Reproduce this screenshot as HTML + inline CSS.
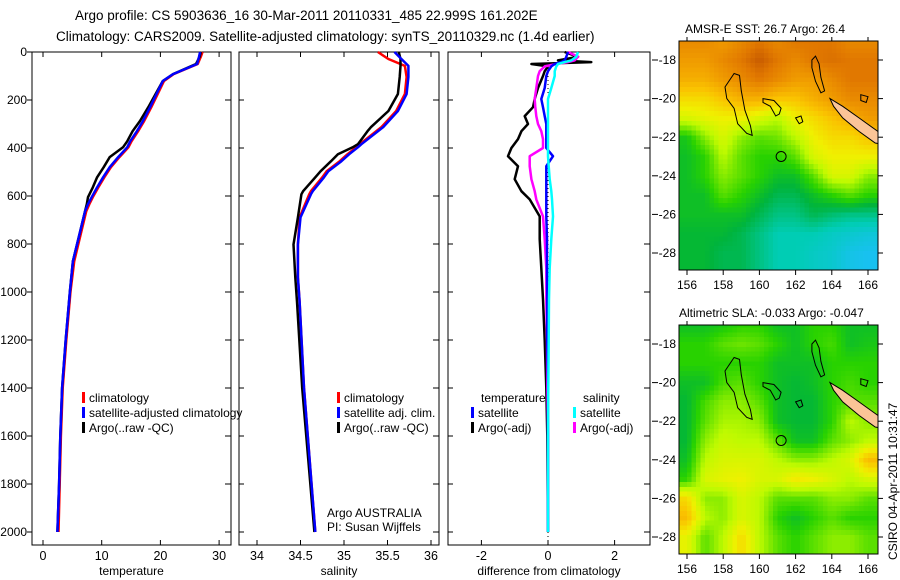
<!DOCTYPE html>
<html><head><meta charset="utf-8"><style>
html,body{margin:0;padding:0;background:#fff;}
svg{display:block;font-family:"Liberation Sans",sans-serif;}
</style></head><body>
<svg id="fig" width="900" height="580" viewBox="0 0 900 580">
<text x="75" y="20" font-size="13.5">Argo profile: CS 5903636_16 30-Mar-2011 20110331_485 22.999S 161.202E</text>
<text x="56" y="41" font-size="13.5">Climatology: CARS2009. Satellite-adjusted climatology: synTS_20110329.nc (1.4d earlier)</text>
<text x="685" y="33" font-size="12">AMSR-E SST: 26.7 Argo: 26.4</text>
<text x="679" y="317" font-size="12">Altimetric SLA: -0.033 Argo: -0.047</text>
<text transform="translate(897,560) rotate(-90)" font-size="12">CSIRO 04-Apr-2011 10:31:47</text>
<g id="g"></g>
</svg>
<script>
// ---- profile data (depth in m) ----
const tDepth = [0,20,50,92,121,230,288,330,372,397,438,480,522,564,605,634,664,747,872,998,1200,1400,1600,1800,2000];
const tClim  = [27.18,26.88,26.36,22.25,20.61,18.45,17.22,16.2,15.07,14.55,13.01,11.57,10.44,9.42,8.49,7.88,7.36,6.54,5.31,4.69,3.97,3.36,3.05,2.84,2.64];
const tSat   = [26.77,26.57,26.26,22.15,20.41,18.25,17.02,15.99,14.86,14.35,12.81,11.37,10.24,9.21,8.29,7.67,7.16,6.34,5.10,4.59,3.87,3.25,2.95,2.74,2.45];
const tArgo  = [26.88,26.67,26.06,22.15,20.41,17.94,16.5,15.27,14.35,13.63,11.37,10.34,9.21,8.49,7.67,7.47,7.16,6.34,5.1,4.59,3.87,3.25,2.95,2.74,2.45];
const sDepth = [0,29,58,104,175,246,313,330,384,397,426,455,497,522,580,593,689,802,939,1040,1400,2000];
const sClim  = [35.39,35.51,35.7,35.72,35.7,35.6,35.43,35.37,35.18,35.14,35.04,34.95,34.8,34.75,34.62,34.6,34.49,34.47,34.47,34.49,34.54,34.67];
const sSat   = [35.58,35.66,35.74,35.74,35.72,35.62,35.45,35.39,35.2,35.16,35.06,34.97,34.82,34.77,34.64,34.62,34.5,34.47,34.47,34.49,34.54,34.67];
const sArgo  = [35.63,35.65,35.65,35.64,35.62,35.51,35.31,35.27,35.16,35.1,34.93,34.85,34.73,34.67,34.53,34.51,34.47,34.42,34.44,34.46,34.52,34.66];
const dDepth = [0,20,35,42,50,60,80,100,150,196,230,267,300,330,363,400,434,476,530,580,614,685,780,900,1030,1200,1400,1600,2000];
const dTempArgo = [0.5,0.9,0.3,1.3,-0.5,0.0,-0.1,-0.15,-0.3,-0.4,-0.45,-0.7,-0.6,-0.8,-0.9,-1.1,-1.2,-0.9,-1.0,-0.8,-0.55,-0.25,-0.25,-0.2,-0.15,-0.1,-0.05,-0.02,0];
const dSalArgo  = [0.6,0.9,0.8,0.6,0.25,-0.1,-0.25,-0.3,-0.35,-0.4,-0.38,-0.35,-0.3,-0.2,-0.15,-0.15,-0.55,-0.55,-0.5,-0.4,-0.35,-0.15,-0.1,-0.05,-0.05,-0.03,-0.02,0,0];
const dTempSat  = [0.6,0.55,0.5,0.4,0.2,0.1,0.0,-0.05,-0.1,-0.2,-0.15,-0.1,-0.05,-0.05,-0.05,-0.05,0.15,-0.05,-0.05,-0.05,-0.05,-0.05,-0.03,-0.03,-0.02,-0.02,0,0,0];
const dSalSat   = [0.9,0.85,0.7,0.5,0.3,0.25,0.2,0.2,0.1,0.0,0,0,0,0,0,0,0,0.02,0.05,0.1,0.12,0.15,0.1,0.05,0.03,0.02,0.01,0,0];
const depthTicks = [0,200,400,600,800,1000,1200,1400,1600,1800,2000];
const tTicks = [0,10,20,30];
const sTicks = [34,34.5,35,35.5,36];
const dTicks = [-2,0,2];
const lonTicks = [156,158,160,162,164,166];
const latTicks = [-18,-20,-22,-24,-26,-28];
// ---- map grids (normalized 0..1 colour index), 12 rows (lat -17..-28) x 11 cols (lon 156..166) ----
const sstGrid = [
[.85,.85,.8,.85,.9,.85,.9,.9,.9,.85,.85],
[.8,.8,.85,.9,.97,.9,.85,.9,.92,.9,.9],
[.75,.75,.8,.85,.9,.85,.8,.8,.85,.9,.9],
[.65,.65,.7,.75,.75,.7,.7,.75,.8,.85,.85],
[.55,.58,.6,.6,.55,.5,.6,.65,.7,.75,.8],
[.32,.45,.55,.45,.4,.42,.5,.6,.65,.65,.7],
[.3,.35,.5,.4,.35,.35,.4,.55,.6,.6,.6],
[.3,.35,.45,.4,.35,.3,.3,.4,.55,.55,.45],
[.3,.3,.4,.35,.3,.25,.25,.3,.35,.4,.35],
[.3,.3,.3,.3,.25,.2,.2,.25,.22,.2,.2],
[.28,.28,.28,.25,.2,.15,.15,.15,.12,.1,.08],
[.28,.28,.25,.25,.2,.15,.15,.12,.1,.05,.03]];
const slaGrid = [
[.3,.3,.32,.35,.35,.3,.3,.35,.35,.3,.3],
[.35,.35,.4,.42,.4,.35,.3,.35,.38,.3,.32],
[.35,.35,.35,.35,.35,.3,.3,.3,.35,.35,.35],
[.3,.3,.38,.4,.35,.3,.28,.3,.35,.38,.35],
[.28,.38,.45,.45,.4,.3,.28,.28,.35,.4,.4],
[.28,.4,.48,.48,.45,.3,.28,.28,.35,.5,.45],
[.28,.45,.52,.5,.5,.4,.3,.3,.4,.45,.5],
[.3,.5,.55,.55,.55,.5,.45,.45,.5,.55,.72],
[.35,.55,.58,.6,.55,.55,.62,.6,.55,.5,.55],
[.65,.45,.45,.55,.5,.4,.4,.4,.45,.45,.4],
[.72,.5,.45,.55,.5,.35,.3,.35,.4,.35,.35],
[.58,.4,.5,.65,.5,.4,.35,.4,.45,.45,.4]];

const NS="http://www.w3.org/2000/svg";
const G=document.getElementById('g');
function el(t,a,p){const e=document.createElementNS(NS,t);for(const k in a)e.setAttribute(k,a[k]);(p||G).appendChild(e);return e;}
function txt(x,y,s,anchor,size,p){const e=el('text',{x:x,y:y,'font-size':size||12,'text-anchor':anchor||'start'},p);e.textContent=s;return e;}
const Y0=52, YS=0.24, BOXT=52, BOXB=545;
const yD=d=>Y0+d*YS;
const panels=[
 {x0:32,x1:231,xs:v=>43+v*5.87,ticks:tTicks,title:'temperature',name:'temperature-panel'},
 {x0:239,x1:439,xs:v=>257+(v-34)*87,ticks:sTicks,title:'salinity',name:'salinity-panel'},
 {x0:448,x1:650,xs:v=>548+v*33.3,ticks:dTicks,title:'difference from climatology',name:'difference-panel'}];
panels.forEach((P,i)=>{
  const g=el('g',{});
  
  
  el('rect',{x:P.x0,y:BOXT,width:P.x1-P.x0,height:BOXB-BOXT,fill:'none',stroke:'#000','stroke-width':1},g);
  P.ticks.forEach(v=>{const x=P.xs(v);
    el('line',{x1:x,x2:x,y1:BOXB,y2:BOXB-5,stroke:'#000'},g);
    el('line',{x1:x,x2:x,y1:BOXT,y2:BOXT+5,stroke:'#000'},g);
    const t=txt(x,560,String(v),'middle',12.5,g);
    
    
  });
  const tt=txt((P.x0+P.x1)/2,575,P.title,'middle',12,g);
  
  
  depthTicks.forEach(d=>{const y=yD(d);
    if(i===0){el('line',{x1:P.x0-5,x2:P.x0,y1:y,y2:y,stroke:'#000'},g);}
    else {el('line',{x1:P.x0,x2:P.x0+5,y1:y,y2:y,stroke:'#000'},g);}
    el('line',{x1:P.x1,x2:P.x1-6,y1:y,y2:y,stroke:'#000'},g);
    if(i===0){const t=txt(27,y+4,String(d),'end',12,g);
      
      }
  });
  P.g=g;
});
function line(P,vals,depths,col,w,name){
  const pts=vals.map((v,k)=>P.xs(v).toFixed(1)+','+yD(depths[k]).toFixed(1)).join(' ');
  const e=el('polyline',{points:pts,fill:'none',stroke:col,'stroke-width':w,'stroke-linejoin':'round'},P.g);
  
  
}
el('line',{x1:548,x2:548,y1:BOXT,y2:BOXB,stroke:'#000','stroke-dasharray':'1,3'},panels[2].g);
line(panels[0],tClim,tDepth,'#f00',2.5,'temperature-climatology-line');
line(panels[0],tArgo,tDepth,'#000',2.5,'temperature-argo-line');
line(panels[0],tSat,tDepth,'#00f',2.5,'temperature-satellite-line');
line(panels[1],sClim,sDepth,'#f00',2.5,'salinity-climatology-line');
line(panels[1],sArgo,sDepth,'#000',2.5,'salinity-argo-line');
line(panels[1],sSat,sDepth,'#00f',2.5,'salinity-satellite-line');
line(panels[2],dTempArgo,dDepth,'#000',2.5,'temp-diff-argo-line');
line(panels[2],dSalArgo,dDepth,'#f0f',2.5,'sal-diff-argo-line');
line(panels[2],dTempSat,dDepth,'#00f',2.5,'temp-diff-satellite-line');
line(panels[2],dSalSat,dDepth,'#0ff',2.5,'sal-diff-satellite-line');
function leg(x,y,col,label,name,p){
  const g=el('g',{},p);
  
  
  el('rect',{x:x,y:y-10,width:3,height:11,fill:col},g);
  txt(x+7,y,label,'start',12,g);
}
leg(82,402,'#f00','climatology','legend-climatology',panels[0].g);
leg(82,417,'#00f','satellite-adjusted climatology','legend-satellite',panels[0].g);
leg(82,432,'#000','Argo(..raw -QC)','legend-argo',panels[0].g);
leg(337,402,'#f00','climatology','legend-climatology',panels[1].g);
leg(337,417,'#00f','satellite adj. clim.','legend-satellite',panels[1].g);
leg(337,432,'#000','Argo(..raw -QC)','legend-argo',panels[1].g);
txt(327,517,'Argo AUSTRALIA','start',12,panels[1].g);
txt(327,531,'PI: Susan Wijffels','start',12,panels[1].g);
txt(481,402,'temperature','start',12,panels[2].g);
txt(583,402,'salinity','start',12,panels[2].g);
leg(471,417,'#00f','satellite','legend-temp-satellite',panels[2].g);
leg(471,432,'#000','Argo(-adj)','legend-temp-argo',panels[2].g);
leg(573,417,'#0ff','satellite','legend-sal-satellite',panels[2].g);
leg(573,432,'#f0f','Argo(-adj)','legend-sal-argo',panels[2].g);
// ---- maps ----
const stops=[[0,[30,190,255]],[0.15,[0,205,180]],[0.27,[0,180,60]],[0.35,[40,210,0]],[0.5,[190,250,0]],[0.6,[240,240,0]],[0.7,[250,195,0]],[0.8,[240,155,0]],[0.9,[225,120,0]],[1,[190,80,0]]];
function cmap(v){v=Math.max(0,Math.min(1,v));for(let i=1;i<stops.length;i++){if(v<=stops[i][0]){const a=stops[i-1],b=stops[i],t=(v-a[0])/(b[0]-a[0]);return 'rgb('+a[1].map((c,k)=>Math.round(c+(b[1][k]-c)*t)).join(',')+')';}}return 'rgb(190,80,0)';}
function sample(grid,lon,lat){
  let c=lon-156, r=-17-lat;
  c=Math.max(0,Math.min(10,c)); r=Math.max(0,Math.min(11,r));
  const c0=Math.min(9,Math.floor(c)), r0=Math.min(10,Math.floor(r)), fc=c-c0, fr=r-r0;
  const a=grid[r0][c0],b=grid[r0][c0+1],d=grid[r0+1][c0],e=grid[r0+1][c0+1];
  return (a*(1-fc)+b*fc)*(1-fr)+(d*(1-fc)+e*fc)*fr;
}
const defs=el('defs',{});
function drawMap(top,grid,name){
  const L=679,R=878,B=top+229;
  const xL=lon=>687+(lon-156)*18.1;
  const yL=lat=>top+19+(-18-lat)*19.3;
  const cid='clip'+top;
  const cp=el('clipPath',{id:cid},defs);el('rect',{x:L,y:top,width:R-L,height:B-top},cp);
  const g=el('g',{});
  
  
  const gc=el('g',{'clip-path':'url(#'+cid+')'},g);
  const gi=el('g',{'shape-rendering':'crispEdges'},gc);
  const st=0.25;
  for(let lat=-16.9;lat>-29.2;lat-=st){
    for(let lon=155.5;lon<166.8;lon+=st){
      const v=sample(grid,lon+st/2,lat-st/2);
      el('rect',{x:xL(lon).toFixed(1),y:yL(lat).toFixed(1),width:(st*18.1+0.6).toFixed(1),height:(st*19.3+0.6).toFixed(1),fill:cmap(v)},gi);
    }
  }
  const P=pts=>pts.map(p=>xL(p[0]).toFixed(1)+','+yL(p[1]).toFixed(1)).join(' ');
  el('polygon',{points:P([[158.1,-19.4],[158.6,-18.7],[158.9,-18.8],[159.0,-19.6],[159.2,-20.6],[159.5,-21.4],[159.6,-21.9],[159.3,-21.8],[158.8,-21.3],[158.6,-20.5],[158.2,-20.0]]),fill:'none',stroke:'#000'},gc);
  el('polygon',{points:P([[160.2,-20.0],[160.8,-20.1],[161.2,-20.5],[161.1,-20.8],[160.9,-20.9],[160.6,-20.4],[160.2,-20.2]]),fill:'none',stroke:'#000'},gc);
  el('polygon',{points:P([[162.0,-21.0],[162.3,-20.9],[162.4,-21.2],[162.2,-21.3]]),fill:'none',stroke:'#000'},gc);
  el('polygon',{points:P([[162.9,-18.0],[163.1,-17.8],[163.3,-18.2],[163.4,-18.9],[163.6,-19.6],[163.4,-19.7],[163.1,-19.1],[162.9,-18.4]]),fill:'none',stroke:'#000'},gc);
  el('polygon',{points:P([[165.6,-19.8],[166.0,-19.9],[165.9,-20.2],[165.6,-20.1]]),fill:'none',stroke:'#000'},gc);
  el('polygon',{points:P([[163.9,-20.0],[164.6,-20.4],[165.5,-21.0],[166.4,-21.6],[167,-22.0],[167,-22.4],[166.4,-22.3],[165.5,-21.7],[164.6,-21.0],[164.1,-20.4]]),fill:'#fbc497',stroke:'#000'},gc);
  const c=el('circle',{cx:xL(161.2),cy:yL(-23),r:5,fill:'none',stroke:'#000'},g);
  
  
  el('rect',{x:L,y:top,width:R-L,height:B-top,fill:'none',stroke:'#000'},g);
  lonTicks.forEach(lo=>{const x=xL(lo);
    el('line',{x1:x,x2:x,y1:B,y2:B+5,stroke:'#000'},g);
    el('line',{x1:x,x2:x,y1:top,y2:top-4,stroke:'#000'},g);
    const t=txt(x,B+19,String(lo),'middle',12,g);
    
    });
  latTicks.forEach(la=>{const y=yL(la);
    el('line',{x1:652,x2:658,y1:y,y2:y,stroke:'#000'},g);
    el('line',{x1:R,x2:R+5,y1:y,y2:y,stroke:'#000'},g);
    const t=txt(L-3,y+4,String(la),'end',12,g);
    
    });
}
drawMap(41,sstGrid,'sst-map');
drawMap(325,slaGrid,'sla-map');
</script>
</body></html>
